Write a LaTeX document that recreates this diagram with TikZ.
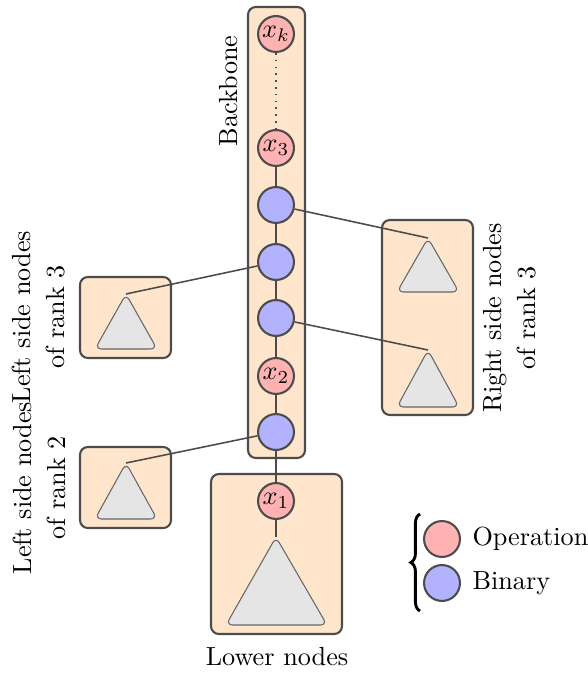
\documentclass[tikz,border=0pt]{standalone}
\usetikzlibrary{decorations.pathreplacing}
\begin{document}
\begin{tikzpicture}[x=0.3817pt,y=-0.3817pt,
  box/.style={draw=black!70, fill=orange!20, thick, rounded corners=3pt},
  opn/.style={circle, draw=black!70, fill=red!30, thick, minimum size=13.7pt, inner sep=0pt},
  bin/.style={circle, draw=black!70, fill=blue!30, thick, minimum size=13.7pt, inner sep=0pt},
  tri/.style={draw=black!60, fill=gray!20, rounded corners=2.5pt},
  conn/.style={draw=black!70, semithick},
  lbl/.style={rotate=90, align=center}]
\useasboundingbox (0,0) rectangle (587,673);
% containers
\draw[box] (248,7) rectangle (305,458);
\draw[box] (382,220) rectangle (473,415);
\draw[box] (80,277) rectangle (171,358);
\draw[box] (80,447) rectangle (171,528);
\draw[box] (211,474) rectangle (342,634);
% triangles
\draw[tri] (428,238) -- (459,292) -- (397,292) -- cycle;
\draw[tri] (428,350) -- (459,407) -- (397,407) -- cycle;
\draw[tri] (126,294) -- (157,349) -- (95,349) -- cycle;
\draw[tri] (126,463) -- (157,519) -- (95,519) -- cycle;
\draw[tri] (276,537) -- (327,625) -- (226,625) -- cycle;
\coordinate (r1) at (428,238);
\coordinate (r2) at (428,350);
\coordinate (l3) at (126,294);
\coordinate (l2) at (126,463);
\coordinate (low) at (276,537);
% backbone nodes
\node[opn] (xk) at (276,34) {$x_k$};
\node[opn] (x3) at (276,148) {$x_3$};
\node[bin] (b1) at (276,205) {};
\node[bin] (b2) at (276,262) {};
\node[bin] (b3) at (276,318) {};
\node[opn] (x2) at (276,376) {$x_2$};
\node[bin] (b4) at (276,432) {};
\node[opn] (x1) at (276,501) {$x_1$};
% connectors
\draw[conn, dotted] (xk) -- (x3);
\draw[conn] (x3) -- (b1);
\draw[conn] (b1) -- (b2);
\draw[conn] (b2) -- (b3);
\draw[conn] (b3) -- (x2);
\draw[conn] (x2) -- (b4);
\draw[conn] (b4) -- (x1);
\draw[conn] (x1) -- (low);
\draw[conn] (b1) -- (r1);
\draw[conn] (b3) -- (r2);
\draw[conn] (b2) -- (l3);
\draw[conn] (b4) -- (l2);
% labels
\node[lbl] (bbl) at (229,91) {Backbone};
\node[lbl] (rl) at (510,318) {Right side nodes\\[1pt]of rank 3};
\node[lbl] (ll3) at (39,317) {Left side nodes\\[1pt]of rank 3};
\node[lbl] (ll2) at (39,488) {Left side nodes\\[1pt]of rank 2};
\node (lowl) at (277,657) {Lower nodes};
% legend
\node[opn] (lop) at (442,539) {};
\node[bin] (lbn) at (442,583) {};
\node[anchor=west, inner sep=0pt] (lopt) at (472,539) {Operation};
\node[anchor=west, inner sep=0pt] (lbnt) at (472,583) {Binary};
\draw[line width=1.1pt, decorate, decoration={brace, amplitude=3.5pt}] (420,611) -- (420,514);
\end{tikzpicture}
\end{document}
